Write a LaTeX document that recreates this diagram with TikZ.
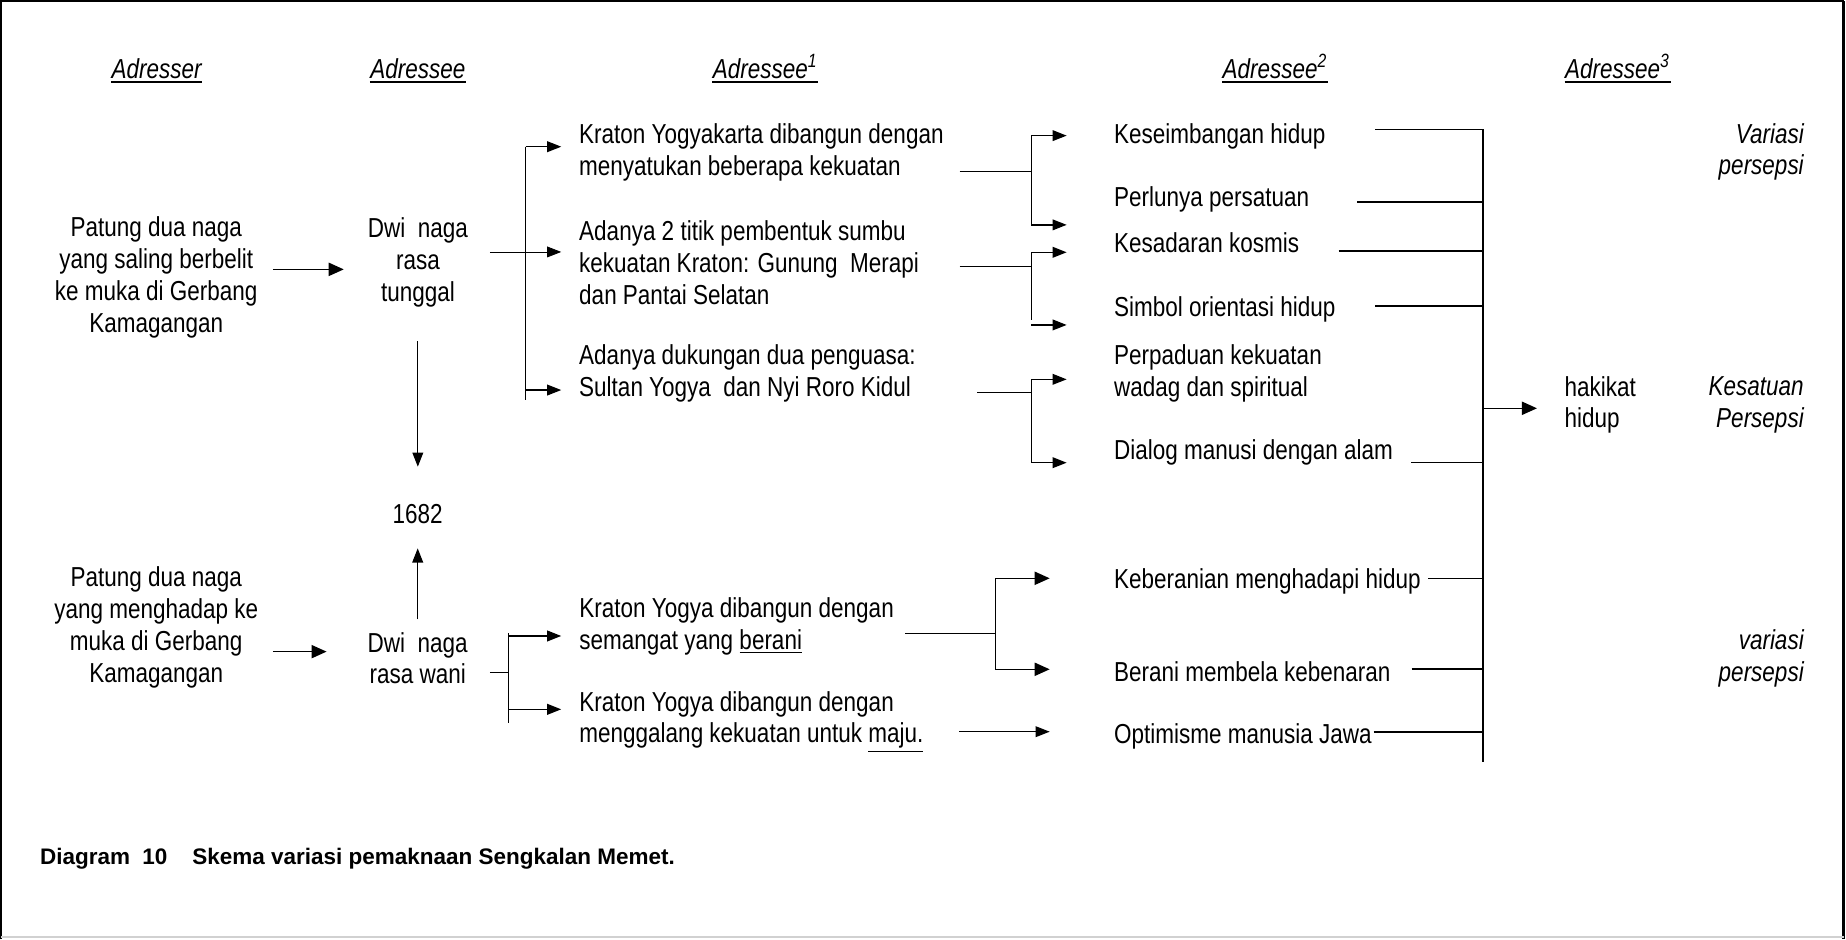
\documentclass[tikz,border=0pt]{standalone}
\usepackage{fontspec}
\setmainfont{Liberation Sans}[FakeStretch=0.82]
\newfontfamily\capfont{Liberation Sans}
\usetikzlibrary{arrows.meta}
\tikzset{
  txt/.style={inner sep=0pt, font=\fontsize{11.65pt}{13.5pt}\selectfont},
  ctxt/.style={txt, align=center, anchor=center},
  ltxt/.style={txt, align=left, anchor=west},
  lbase/.style={txt, anchor=base west},
  rtxt/.style={txt, align=right, anchor=east, font=\fontsize{11.65pt}{13.5pt}\selectfont\itshape},
  hdr/.style={txt, anchor=base, font=\fontsize{11.65pt}{13.5pt}\selectfont\itshape},
  arr/.style={-{Triangle[length=6pt,width=4.6pt]}, line width=0.55pt},
  bigarr/.style={-{Triangle[length=6.4pt,width=5.6pt]}, line width=0.65pt},
  tharr/.style={-{Triangle[length=6pt,width=4.6pt]}, line width=0.35pt},
  midln/.style={line width=0.5pt},
  thinln/.style={line width=0.3pt},
  hline/.style={line width=0.6pt},
  hbold/.style={line width=0.85pt},
}
\begin{document}
\begin{tikzpicture}[x=0.5pt,y=-0.5pt]
\useasboundingbox (0,0) rectangle (1568,798);
% frame
\draw[line width=0.7pt] (1,798) -- (1,1) -- (1566,1);
\draw[line width=1.3pt] (1566,1) -- (1566,798);
\draw[black!18, line width=1pt] (1,796) -- (1566,796);

% headers
\node[hdr] (hA) at (133,66.3) {Adresser};
\node[hdr] (hB) at (355,66.3) {Adressee};
\node[hdr] (hC) at (650,66.3) {Adressee\textsuperscript{1}};
\node[hdr] (hD) at (1083,66.3) {Adressee\textsuperscript{2}};
\node[hdr] (hE) at (1374,66.3) {Adressee\textsuperscript{3}};
\foreach \n in {hA,hB,hC,hD,hE}
  \draw[line width=0.8pt] ([yshift=-1.5pt]\n.base west) -- ([yshift=-1.5pt]\n.base east);

% first row texts
\node[ctxt] (p1) at (132.7,235.5) {Patung dua naga\\yang saling berbelit\\ke muka di Gerbang\\Kamagangan};
\node[ctxt] (d1) at (355,223) {Dwi\ \ naga\\rasa\\tunggal};
\node[ltxt] (k1) at (491.6,129.4) {Kraton Yogyakarta dibangun dengan\\menyatukan beberapa kekuatan};
\node[ltxt] (k2) at (491.6,223) {Adanya 2 titik pembentuk sumbu\\kekuatan Kraton: Gunung\ \ Merapi\\dan Pantai Selatan};
\node[ltxt] (k3) at (491.6,317) {Adanya dukungan dua penguasa:\\Sultan Yogya\ \ dan Nyi Roro Kidul};

\node[lbase] (a1) at (946,122.1) {Keseimbangan hidup};
\node[lbase] (a2) at (946,175.3) {Perlunya persatuan};
\node[lbase] (a3) at (946,214.3) {Kesadaran kosmis};
\node[lbase] (a4) at (946,268.8) {Simbol orientasi hidup};
\node[ltxt]  (a5) at (946,317) {Perpaduan kekuatan\\wadag dan spiritual};
\node[lbase] (a6) at (946,390) {Dialog manusi dengan alam};
\node[lbase] (a7) at (946,499.5) {Keberanian menghadapi hidup};
\node[lbase] (a8) at (946,578.8) {Berani membela kebenaran};
\node[lbase] (a9) at (946,631.2) {Optimisme manusia Jawa};

\node[ltxt] (hk) at (1328.5,343.9) {hakikat\\hidup};
\node[rtxt] (v1) at (1532.5,129) {Variasi\\persepsi};
\node[rtxt] (v2) at (1532.5,343.9) {Kesatuan\\Persepsi};
\node[rtxt] (v3) at (1532.5,559) {variasi\\persepsi};

% second row texts
\node[txt, anchor=base] (yr) at (354.8,444.3) {1682};
\node[ctxt] (p2) at (132.7,532.9) {Patung dua naga\\yang menghadap ke\\muka di Gerbang\\Kamagangan};
\node[ctxt] (d2) at (354.8,559) {Dwi\ \ naga\\rasa wani};
\node[ltxt] (k4) at (491.8,532) {Kraton Yogya dibangun dengan\\semangat yang \underline{berani}};
\node[ltxt] (k5) at (491.8,613.5) {Kraton Yogya dibangun dengan\\menggalang kekuatan untuk \underline{maju.}};

% caption
\node[anchor=base west, inner sep=0pt, font=\capfont\bfseries\fontsize{9.55pt}{11pt}\selectfont] (cap) at (33.6,734.7)
  {Diagram\ \ 10\ \ \ \ Skema variasi pemaknaan Sengkalan Memet.};

% ---- connectors, first row
\coordinate (p1o) at (231.7,228.8);
\coordinate (d1i) at (292,228.8);
\draw[bigarr] (p1o) -- (d1i);

\coordinate (d1o) at (416,214);
\coordinate (b1t) at (446.5,124.6);
\coordinate (b1m) at (446.5,331.3);
\coordinate (b1b) at (446.5,339.8);
\coordinate (k1i) at (476.7,124.6);
\coordinate (k2i) at (476.7,214);
\coordinate (k3i) at (476.7,331.3);
\draw[midln] (b1t) -- (b1b);
\draw[tharr] (d1o) -- (k2i);
\draw[arr] (b1t) -- (k1i);
\draw[arr] (b1m) -- (k3i);

\coordinate (d1d) at (354.9,290);
\coordinate (yrt) at (354.9,396.4);
\draw[arr, line width=0.45pt] (d1d) -- (yrt);

% branch k1
\coordinate (k1o) at (815,145.3);
\coordinate (j1) at (876,145.3);
\coordinate (j1t) at (876,115.2);
\coordinate (j1b) at (876,191);
\draw[thinln] (k1o) -- (j1);
\draw[midln] (j1t) -- (j1b);
\draw[arr] (j1t) -- +(30,0) coordinate (t11);
\draw[arr] (j1b) -- +(30,0) coordinate (t12);
% branch k2
\coordinate (k2o) at (815,225.9);
\coordinate (j2) at (876,225.9);
\coordinate (j2t) at (876,214.3);
\coordinate (j2b) at (876,271.8);
\coordinate (j2c) at (876,276);
\draw[thinln] (k2o) -- (j2);
\draw[midln] (j2t) -- (j2b);
\draw[arr] (j2t) -- +(30,0) coordinate (t21);
\draw[arr] (j2c) -- +(30,0) coordinate (t22);
% branch k3
\coordinate (k3o) at (830,333.5);
\coordinate (j3) at (876,333.5);
\coordinate (j3t) at (876,322.2);
\coordinate (j3b) at (876,393);
\draw[thinln] (k3o) -- (j3);
\draw[midln] (j3t) -- (j3b);
\draw[arr] (j3t) -- +(30,0) coordinate (t31);
\draw[arr] (j3b) -- +(30,0) coordinate (t32);

% big collector
\coordinate (V1) at (1259.7,109.9);
\coordinate (V2) at (1259.7,647);
\draw[line width=0.6pt] (V1) -- (V2);
\coordinate (e1) at (1168,109.9);
\coordinate (e2) at (1153,171.3);
\coordinate (e3) at (1137,213.2);
\coordinate (e4) at (1168,259.6);
\coordinate (e6) at (1198.7,393);
\coordinate (e7) at (1213,491.2);
\coordinate (e8) at (1199,568.3);
\coordinate (e9) at (1166.8,621.5);
\foreach \e in {e1,e3,e6,e7,e8}
  \draw[hline] (\e) -- (\e -| V1);
\foreach \e in {e2,e4,e9}
  \draw[hbold] (\e) -- (\e -| V1);
\coordinate (vh) at (1259.7,346.8);
\coordinate (hki) at (1305.5,346.8);
\draw[bigarr] (vh) -- (hki);

% ---- second row
\coordinate (d2u) at (354.8,526);
\coordinate (yrb) at (354.8,465.8);
\draw[arr, line width=0.45pt] (d2u) -- (yrb);

\coordinate (p2o) at (231.8,553.5);
\coordinate (d2i) at (277.4,553.5);
\draw[bigarr] (p2o) -- (d2i);

\coordinate (d2o) at (416,571.4);
\coordinate (b2) at (431.7,571.4);
\coordinate (b2t) at (431.7,538);
\coordinate (b2b) at (431.7,614.4);
\coordinate (b2a) at (431.7,540.2);
\coordinate (b2c) at (431.7,602.5);
\coordinate (k4i) at (476.7,540.2);
\coordinate (k5i) at (476.7,602.5);
\draw[thinln] (d2o) -- (b2);
\draw[midln] (b2t) -- (b2b);
\draw[arr] (b2a) -- (k4i);
\draw[arr] (b2c) -- (k5i);

\coordinate (k4o) at (769,538);
\coordinate (j4) at (845.4,538);
\coordinate (j4t) at (845.4,491.2);
\coordinate (j4b) at (845.4,568.5);
\draw[line width=0.65pt] (k4o) -- (j4);
\draw[midln] (j4t) -- (j4b);
\draw[bigarr] (j4t) -- (891.6,491.2) coordinate (a7i);
\draw[bigarr] (j4b) -- (891.6,568.5) coordinate (a8i);

\coordinate (k5o) at (814.6,621.5);
\coordinate (a9i) at (891.6,621.5);
\draw[tharr, line width=0.45pt] (k5o) -- (a9i);
\end{tikzpicture}
\end{document}
